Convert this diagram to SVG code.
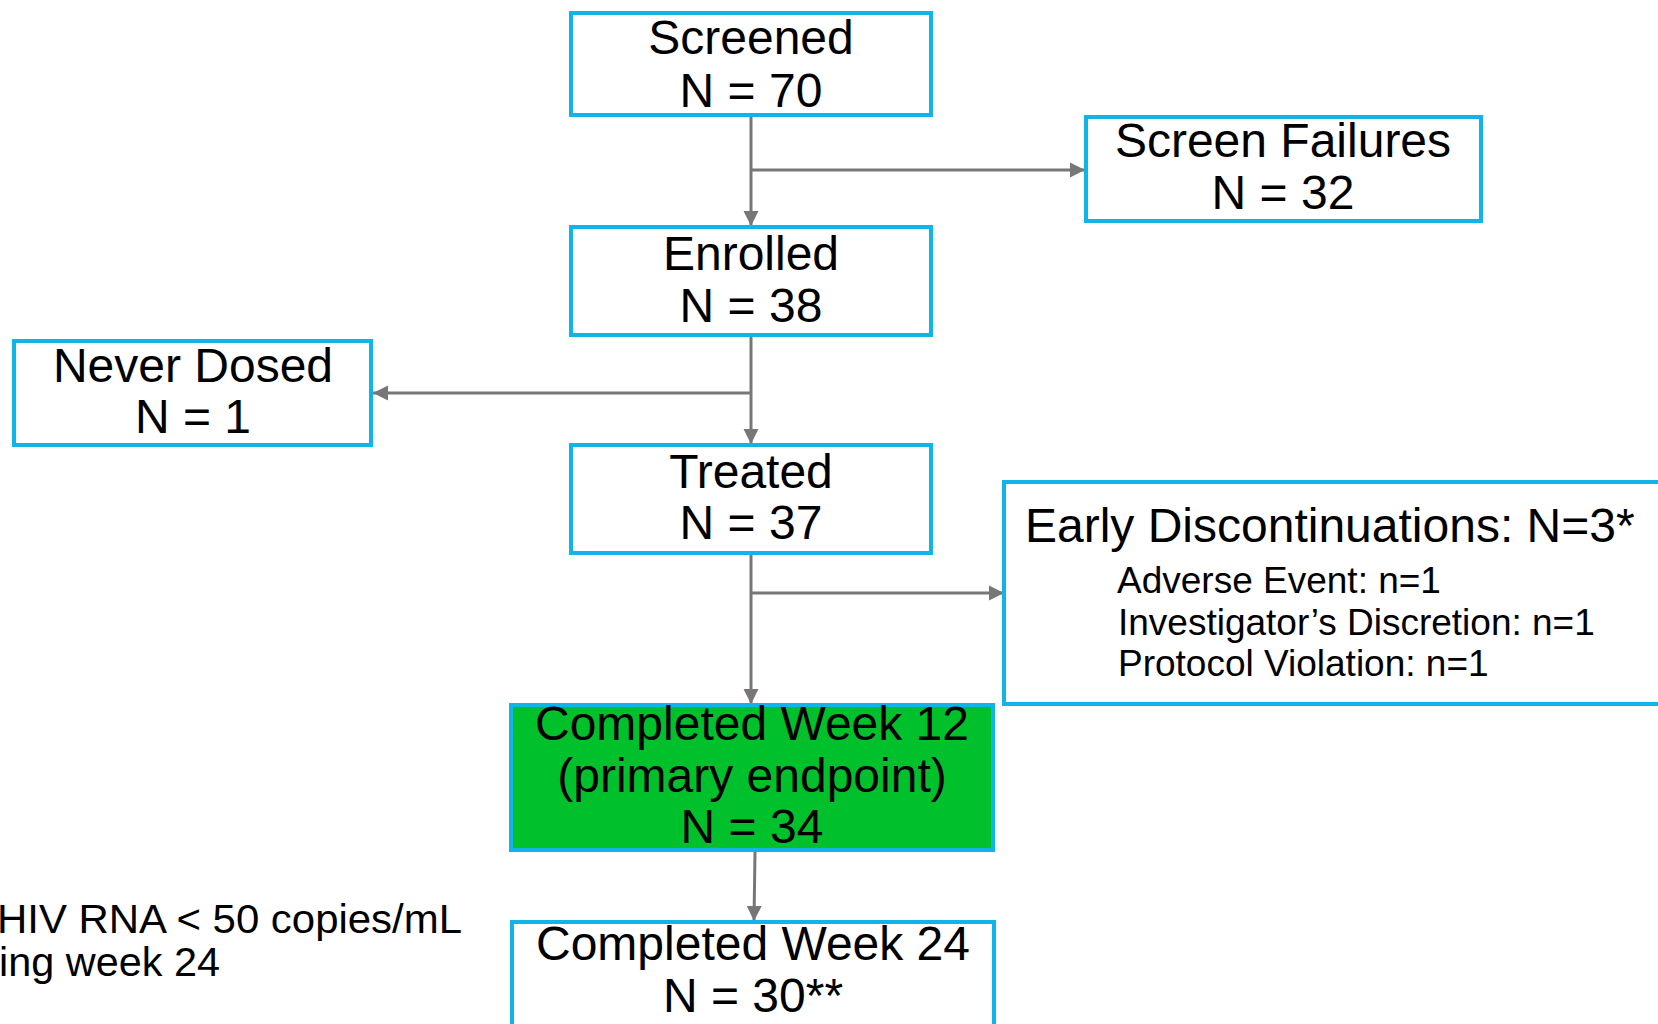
<svg xmlns="http://www.w3.org/2000/svg" width="1658" height="1024" viewBox="0 0 1658 1024">
<style>
.box{fill:#ffffff;stroke:#10B4E8;stroke-width:4}
.green{fill:#00C12B;stroke:#10B4E8;stroke-width:4}
.t{font-family:"Liberation Sans",Arial,sans-serif;font-size:48px;fill:#000;text-anchor:middle}
.s{font-family:"Liberation Sans",Arial,sans-serif;font-size:37px;fill:#000}
.n{font-family:"Liberation Sans",Arial,sans-serif;font-size:40px;fill:#000}
.c{fill:none;stroke:#777777;stroke-width:3}
</style>
<defs>
<marker id="ah" markerUnits="userSpaceOnUse" markerWidth="16" markerHeight="16" viewBox="0 0 16 16" refX="15" refY="8" orient="auto">
<path d="M0,0.5 L15,8 L0,15.5 Z" fill="#777777"/>
</marker>
</defs>
<rect width="1658" height="1024" fill="#ffffff"/>
<g id="connectors">
<line class="c" x1="751" y1="117" x2="751" y2="226" marker-end="url(#ah)"/>
<line class="c" x1="751" y1="170" x2="1085" y2="170" marker-end="url(#ah)"/>
<line class="c" x1="751" y1="337" x2="751" y2="444" marker-end="url(#ah)"/>
<line class="c" x1="751" y1="393" x2="373" y2="393" marker-end="url(#ah)"/>
<line class="c" x1="751" y1="555" x2="751" y2="704" marker-end="url(#ah)"/>
<line class="c" x1="751" y1="593" x2="1004" y2="593" marker-end="url(#ah)"/>
<line class="c" x1="755" y1="852" x2="754" y2="921" marker-end="url(#ah)"/>
</g>
<g id="screened">
<rect class="box" x="571" y="13" width="360" height="102"/>
<text class="t" x="751" y="54">Screened</text>
<text class="t" x="751" y="107">N = 70</text>
</g>
<g id="screen-failures">
<rect class="box" x="1086" y="117" width="395" height="104"/>
<text class="t" x="1283" y="157">Screen Failures</text>
<text class="t" x="1283" y="209">N = 32</text>
</g>
<g id="enrolled">
<rect class="box" x="571" y="227" width="360" height="108"/>
<text class="t" x="751" y="270">Enrolled</text>
<text class="t" x="751" y="322">N = 38</text>
</g>
<g id="never-dosed">
<rect class="box" x="14" y="341" width="357" height="104"/>
<text class="t" x="193" y="382">Never Dosed</text>
<text class="t" x="193" y="433">N = 1</text>
</g>
<g id="treated">
<rect class="box" x="571" y="445" width="360" height="108"/>
<text class="t" x="751" y="488">Treated</text>
<text class="t" x="751" y="539">N = 37</text>
</g>
<g id="early-discontinuations">
<rect class="box" x="1004" y="482" width="700" height="222"/>
<text class="t" x="1025" y="542" style="text-anchor:start">Early Discontinuations: N=3*</text>
<text class="s" x="1117" y="593">Adverse Event: n=1</text>
<text class="s" x="1118" y="635">Investigator’s Discretion: n=1</text>
<text class="s" x="1118" y="676">Protocol Violation: n=1</text>
</g>
<g id="week12">
<rect class="green" x="511" y="705" width="482" height="145"/>
<text class="t" x="752" y="740">Completed Week 12</text>
<text class="t" x="752" y="792">(primary endpoint)</text>
<text class="t" x="752" y="843">N = 34</text>
</g>
<g id="week24">
<rect class="box" x="512" y="922" width="482" height="150"/>
<text class="t" x="753" y="960">Completed Week 24</text>
<text class="t" x="753" y="1012">N = 30**</text>
</g>
<g id="footnote">
<text class="n" x="-3" y="933" textLength="465" lengthAdjust="spacingAndGlyphs">HIV RNA &lt; 50 copies/mL</text>
<text class="n" x="-1" y="976" textLength="221" lengthAdjust="spacingAndGlyphs">ing week 24</text>
</g>
</svg>
